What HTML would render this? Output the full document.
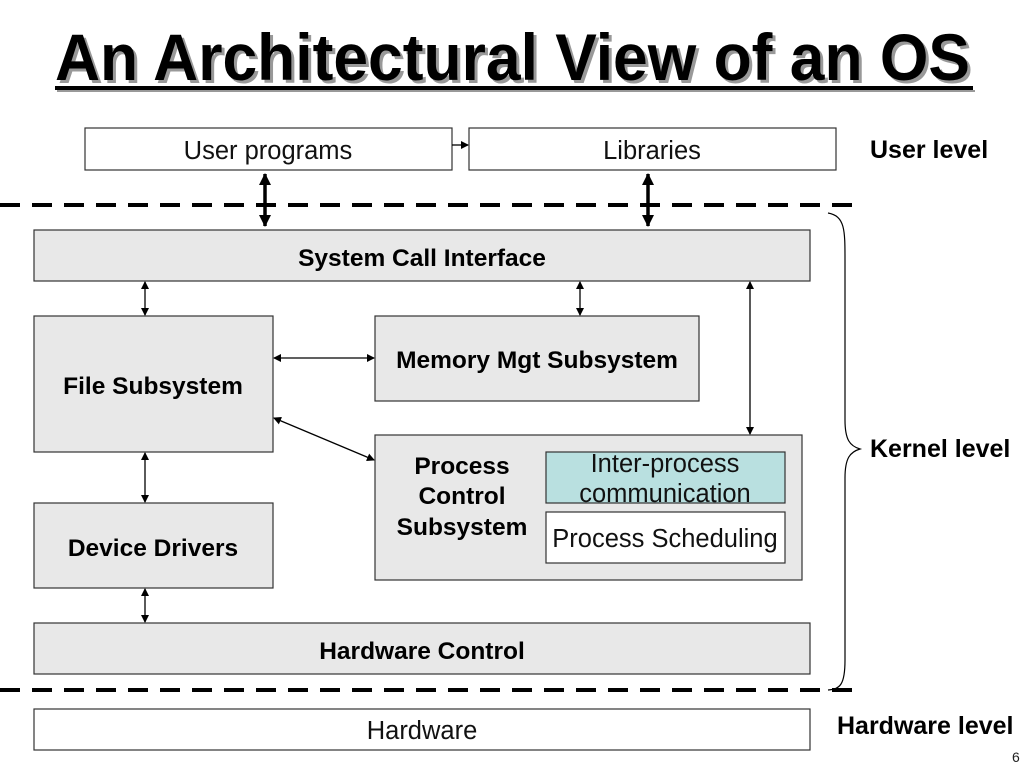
<!DOCTYPE html>
<html><head><meta charset="utf-8"><style>
html,body{margin:0;padding:0;background:#fff;}
svg{display:block;font-family:"Liberation Sans",Arial,sans-serif;}
</style></head><body>
<svg width="1024" height="768" viewBox="0 0 1024 768" xmlns="http://www.w3.org/2000/svg">
<defs>
<marker id="a" markerWidth="8" markerHeight="8" refX="7" refY="4" orient="auto-start-reverse" markerUnits="userSpaceOnUse"><path d="M0,0 L8,4 L0,8 z" fill="#000"/></marker>
<marker id="b" markerWidth="12" markerHeight="12" refX="11" refY="6" orient="auto-start-reverse" markerUnits="userSpaceOnUse"><path d="M0,0 L12,6 L0,12 z" fill="#000"/></marker>
</defs>
<g font-weight="bold" font-size="66">
<text x="58" y="83" fill="#999" textLength="915" lengthAdjust="spacingAndGlyphs">An Architectural View of an OS</text>
<text x="55" y="80" fill="#000" textLength="915" lengthAdjust="spacingAndGlyphs">An Architectural View of an OS</text>
</g>
<rect x="55" y="86" width="918" height="4" fill="#000"/>
<rect x="57" y="90" width="918" height="2" fill="#999"/>

<g stroke="#333" stroke-width="1.2">
<rect x="85" y="128" width="367" height="42" fill="#fff"/>
<rect x="469" y="128" width="367" height="42" fill="#fff"/>
<rect x="34" y="230" width="776" height="51" fill="#e8e8e8"/>
<rect x="34" y="316" width="239" height="136" fill="#e8e8e8"/>
<rect x="375" y="316" width="324" height="85" fill="#e8e8e8"/>
<rect x="375" y="435" width="427" height="145" fill="#e8e8e8"/>
<rect x="546" y="452" width="239" height="51" fill="#b9e0e0"/>
<rect x="546" y="512" width="239" height="51" fill="#fff"/>
<rect x="34" y="503" width="239" height="85" fill="#e8e8e8"/>
<rect x="34" y="623" width="776" height="51" fill="#e8e8e8"/>
<rect x="34" y="709" width="776" height="41" fill="#fff"/>
</g>

<g stroke="#000" stroke-width="4" stroke-dasharray="20 12">
<line x1="0" y1="205" x2="854" y2="205"/>
<line x1="0" y1="690" x2="854" y2="690"/>
</g>

<g stroke="#000" stroke-width="3.5">
<line x1="265" y1="174" x2="265" y2="226" marker-start="url(#b)" marker-end="url(#b)"/>
<line x1="648" y1="174" x2="648" y2="226" marker-start="url(#b)" marker-end="url(#b)"/>
</g>
<g stroke="#000" stroke-width="1.3">
<line x1="452" y1="145" x2="468" y2="145" marker-end="url(#a)"/>
<line x1="145" y1="282" x2="145" y2="315" marker-start="url(#a)" marker-end="url(#a)"/>
<line x1="580" y1="282" x2="580" y2="315" marker-start="url(#a)" marker-end="url(#a)"/>
<line x1="750" y1="282" x2="750" y2="434" marker-start="url(#a)" marker-end="url(#a)"/>
<line x1="274" y1="358" x2="374" y2="358" marker-start="url(#a)" marker-end="url(#a)"/>
<line x1="274" y1="418" x2="374" y2="460" marker-start="url(#a)" marker-end="url(#a)"/>
<line x1="145" y1="453" x2="145" y2="502" marker-start="url(#a)" marker-end="url(#a)"/>
<line x1="145" y1="589" x2="145" y2="622" marker-start="url(#a)" marker-end="url(#a)"/>
</g>
<path d="M828,213 C845,216 845,230 845,260 L845,420 C845,440 850,446 860,449 C850,452 845,458 845,478 L845,660 C845,685 840,689 828,690" fill="none" stroke="#000" stroke-width="1.2"/>

<g font-size="25.5" fill="#111" text-anchor="middle">
<text x="268" y="159">User programs</text>
<text x="652" y="159">Libraries</text>
<text x="665" y="472">Inter-process</text>
<text x="665" y="502">communication</text>
<text x="665" y="547">Process Scheduling</text>
<text x="422" y="739">Hardware</text>
</g>
<g font-size="24.5" font-weight="bold" fill="#000" text-anchor="middle">
<text x="422" y="266">System Call Interface</text>
<text x="153" y="394">File Subsystem</text>
<text x="537" y="368">Memory Mgt Subsystem</text>
<text x="462" y="474">Process</text>
<text x="462" y="504">Control</text>
<text x="462" y="535">Subsystem</text>
<text x="153" y="556">Device Drivers</text>
<text x="422" y="659">Hardware Control</text>
</g>
<g font-size="25" font-weight="bold" fill="#000">
<text x="870" y="158">User level</text>
<text x="870" y="457">Kernel level</text>
<text x="837" y="734">Hardware level</text>
</g>
<text x="1012" y="762" font-size="14" fill="#222">6</text>
</svg>
</body></html>
